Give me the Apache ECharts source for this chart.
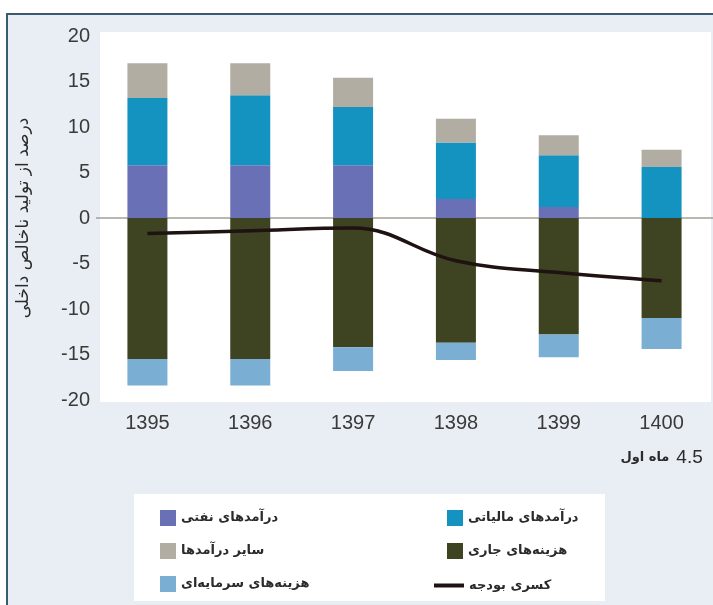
<!DOCTYPE html>
<html lang="fa">
<head>
    <meta charset="UTF-8">
    <title>کسری بودجه</title>
    <script src="https://cdn.jsdelivr.net/npm/echarts@6/dist/echarts.min.js"></script>
    <style>
        html, body { margin: 0; padding: 0; background: #fff; }
    </style>
</head>
<body>
<div id="main" style="width: 713px;height:605px;"></div>
<script>
    // سال‌ها
    var years = ['1395', '1396', '1397', '1398', '1399', '1400'];
    var yTicks = [-20, -15, -10, -5, 0, 5, 10, 15, 20];
    // درآمدها (مثبت)
    var oilRevenue = [5.8, 5.8, 5.8, 2.1, 1.2, 0];
    var taxRevenue = [7.4, 7.7, 6.4, 6.2, 5.7, 5.6];
    var otherRevenue = [3.8, 3.5, 3.2, 2.6, 2.2, 1.9];
    // هزینه‌ها (منفی)
    var currentCost = [-15.5, -15.5, -14.2, -13.7, -12.8, -11.0];
    var capitalCost = [-2.9, -2.9, -2.6, -1.9, -2.5, -3.4];
    // کسری بودجه
    var deficit = [-1.7, -1.4, -1.1, -4.7, -6.0, -6.9];

    var names = {
        oil: 'درآمدهای نفتی',
        tax: 'درآمدهای مالیاتی',
        other: 'سایر درآمدها',
        cur: 'هزینه‌های جاری',
        cap: 'هزینه‌های سرمایه‌ای',
        def: 'کسری بودجه'
    };

    var myChart = echarts.init(document.getElementById('main'));

    var legendText = {
        fontFamily: 'DejaVu Sans',
        fontSize: 13,
        fontWeight: 'bold',
        color: '#2b2b2b'
    };

    function bar(name, data, color) {
        return {
            name: name,
            type: 'bar',
            stack: 'all',
            barWidth: 40,
            itemStyle: {color: color},
            data: data
        };
    }

    var option = {
        backgroundColor: '#fff',
        animation: false,
        graphic: [
            {
                type: 'rect', z: -10,
                shape: {x: 7, y: 14, width: 720, height: 610},
                style: {fill: '#e8eef3', stroke: '#3b5b6e', lineWidth: 2}
            },
            {
                type: 'rect', z: -9,
                shape: {x: 100, y: 32, width: 611, height: 370},
                style: {fill: '#ffffff'}
            },
            {
                type: 'rect', z: -9,
                shape: {x: 134, y: 494, width: 471, height: 107},
                style: {fill: '#ffffff'}
            }
        ],
        grid: {
            left: 96,
            top: 36,
            width: 618,
            height: 364
        },
        legend: [
            {
                orient: 'vertical',
                left: 155, top: 505,
                itemWidth: 16, itemHeight: 16, itemGap: 17,
                icon: 'rect',
                textStyle: legendText,
                data: [names.oil, names.other, names.cap]
            },
            {
                orient: 'vertical',
                left: 442, top: 505,
                itemWidth: 16, itemHeight: 16, itemGap: 17,
                icon: 'rect',
                textStyle: legendText,
                data: [names.tax, names.cur]
            },
            {
                left: 429, top: 574,
                itemWidth: 30, itemHeight: 4,
                icon: 'rect',
                textStyle: legendText,
                data: [names.def]
            }
        ],
        xAxis: {
            type: 'category',
            data: years,
            axisLine: {show: false},
            axisTick: {show: false},
            axisLabel: {
                interval: 0,
                margin: 6,
                color: '#3a3a3a',
                fontFamily: 'Liberation Sans',
                fontSize: 20,
                formatter: function (v) {
                    if (v === '1400') {
                        return '{y|1400}\n{p|ماه اول}{n|4.5}';
                    }
                    return '{y|' + v + '}';
                },
                rich: {
                    y: {fontFamily: 'Liberation Sans', fontSize: 20, color: '#3a3a3a', lineHeight: 34},
                    p: {fontFamily: 'DejaVu Sans', fontSize: 13, fontWeight: 'bold', color: '#2b2b2b', lineHeight: 36},
                    n: {fontFamily: 'Liberation Sans', fontSize: 19, color: '#2b2b2b', lineHeight: 36, padding: [0, 0, 0, 7]}
                }
            }
        },
        yAxis: {
            type: 'value',
            min: yTicks[0],
            max: yTicks[yTicks.length - 1],
            interval: 5,
            name: 'درصد از تولید ناخالص داخلی',
            nameLocation: 'middle',
            nameGap: 64,
            nameTextStyle: {
                fontFamily: 'DejaVu Sans',
                fontSize: 17,
                color: '#2b2b2b'
            },
            axisLine: {show: false},
            axisTick: {show: false},
            splitLine: {show: false},
            axisLabel: {
                margin: 6,
                color: '#3a3a3a',
                fontFamily: 'Liberation Sans',
                fontSize: 20
            }
        },
        series: [
            bar(names.oil, oilRevenue, '#6a70b5'),
            bar(names.tax, taxRevenue, '#1593c0'),
            bar(names.other, otherRevenue, '#b2ada3'),
            bar(names.cur, currentCost, '#3e4321'),
            bar(names.cap, capitalCost, '#7aaed3'),
            {
                name: names.def,
                type: 'line',
                smooth: 0.4,
                symbol: 'none',
                z: 5,
                lineStyle: {color: '#1e1212', width: 3.5},
                itemStyle: {color: '#1e1212'},
                data: deficit,
                markLine: {
                    silent: true,
                    symbol: 'none',
                    label: {show: false},
                    lineStyle: {color: '#a39e96', width: 1.5, type: 'solid'},
                    z: 1,
                    data: [{yAxis: 0}]
                }
            }
        ]
    };

    myChart.setOption(option);
</script>
</body>
</html>
